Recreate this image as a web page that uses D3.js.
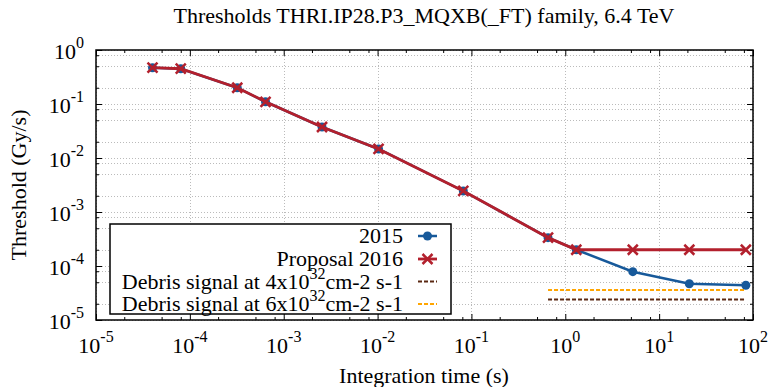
<!DOCTYPE html>
<html><head><meta charset="utf-8">
<script src="https://cdn.jsdelivr.net/npm/d3@7"></script>
<style>
body{margin:0;background:#fff}
</style>
</head><body><svg id="c" width="770" height="387"></svg>
<script>
// ---- data ----
const times = [4e-5, 8e-5, 3.2e-4, 6.4e-4, 2.56e-3, 1.024e-2, 8.192e-2, 0.655, 1.31, 5.24, 20.97, 83.89];
const thr2015 = [0.47, 0.45, 0.2, 0.11, 0.0375, 0.0147, 0.00245, 3.35e-4, 2.0e-4, 7.85e-5, 4.7e-5, 4.4e-5];
const prop2016 = [0.47, 0.45, 0.2, 0.11, 0.0375, 0.0147, 0.00245, 3.35e-4, 2.0e-4, 2.0e-4, 2.0e-4, 2.0e-4];
const debrisX = [0.655, 83.89];
const debris4 = 2.4e-5;
const debris6 = 3.6e-5;
const xExponents = [-5, -4, -3, -2, -1, 0, 1, 2];
const yExponents = [-5, -4, -3, -2, -1, 0];
const minorMult = [2, 5, 8];
const titleText = "Thresholds THRI.IP28.P3_MQXB(_FT) family, 6.4 TeV";
const xLabel = "Integration time (s)";
const yLabel = "Threshold (Gy/s)";

const C2015 = "#17599a", C2016 = "#b3202d", CBROWN = "#5a2812", CORANGE = "#ffa500";
const FONT = "Liberation Serif";

const svg = d3.select("#c");
const L = 96, R = 753, T = 50, B = 320;
const x = d3.scaleLog().domain([1e-5, 1e2]).range([L, R]);
const y = d3.scaleLog().domain([1e-5, 1]).range([B, T]);

const xMaj = xExponents.map(e => Math.pow(10, e));
const yMaj = yExponents.map(e => Math.pow(10, e));
const minorsOf = (exps) => {
  const out = [];
  exps.slice(0, -1).forEach(e => minorMult.forEach(m => out.push(m * Math.pow(10, e))));
  return out;
};
const xMin = minorsOf(xExponents);
const yMin = minorsOf(yExponents);

function txt(parent) {
  return parent.append("text").attr("font-family", FONT).attr("fill", "#000");
}

// grid
const grid = svg.append("g").attr("stroke", "#bbb").attr("stroke-width", 1).attr("stroke-dasharray", "1,2");
yMaj.concat(yMin).forEach(v => {
  grid.append("line").attr("x1", L).attr("x2", R).attr("y1", Math.round(y(v)) + 0.5).attr("y2", Math.round(y(v)) + 0.5);
});
xMaj.forEach(v => {
  grid.append("line").attr("y1", T).attr("y2", B).attr("x1", Math.round(x(v)) + 0.5).attr("x2", Math.round(x(v)) + 0.5);
});

// axes (inward ticks, mirrored)
function ax(gen, tr, vals, size) {
  const g = svg.append("g").attr("transform", tr)
    .call(gen.tickValues(vals).tickSize(size).tickFormat(""));
  g.select(".domain").remove();
  g.selectAll("line").attr("stroke", "#000").attr("stroke-width", 1);
  return g;
}
ax(d3.axisBottom(x), `translate(0,${B})`, xMaj, -6);
ax(d3.axisBottom(x), `translate(0,${B})`, xMin, -3);
ax(d3.axisTop(x), `translate(0,${T})`, xMaj, -6);
ax(d3.axisTop(x), `translate(0,${T})`, xMin, -3);
ax(d3.axisLeft(y), `translate(${L},0)`, yMaj, -6);
ax(d3.axisLeft(y), `translate(${L},0)`, yMin, -3);
ax(d3.axisRight(y), `translate(${R},0)`, yMaj, -6);
ax(d3.axisRight(y), `translate(${R},0)`, yMin, -3);

// tick labels
xExponents.forEach((e, i) => {
  const t = txt(svg).attr("x", x(xMaj[i])).attr("y", 353).attr("text-anchor", "middle").attr("font-size", 22);
  t.append("tspan").text("10");
  t.append("tspan").attr("font-size", 16).attr("dy", -11).text(e);
});
yExponents.forEach((e, i) => {
  const t = txt(svg).attr("x", 84).attr("y", y(yMaj[i]) + 9).attr("text-anchor", "end").attr("font-size", 22);
  t.append("tspan").text("10");
  t.append("tspan").attr("font-size", 16).attr("dy", -11).text(e);
});

// frame
svg.append("rect").attr("x", L).attr("y", T).attr("width", R - L).attr("height", B - T)
  .attr("fill", "none").attr("stroke", "#000").attr("stroke-width", 1.5);

// debris lines
[[debris4, CBROWN], [debris6, CORANGE]].forEach(([v, c]) => {
  svg.append("line").attr("x1", x(debrisX[0])).attr("x2", x(debrisX[1]))
    .attr("y1", y(v)).attr("y2", y(v)).attr("stroke", c).attr("stroke-width", 2).attr("stroke-dasharray", "4,2");
});

// series
const line = (vals) => d3.line().x((d, i) => x(times[i])).y(d => y(d))(vals);
svg.append("path").attr("d", line(thr2015)).attr("fill", "none").attr("stroke", C2015).attr("stroke-width", 2.5);
svg.selectAll("circle.s15").data(thr2015).enter().append("circle")
  .attr("cx", (d, i) => x(times[i])).attr("cy", d => y(d)).attr("r", 4.5).attr("fill", C2015);
svg.append("path").attr("d", line(prop2016)).attr("fill", "none").attr("stroke", C2016).attr("stroke-width", 2.8);
const cross = (g, cx, cy, s) => {
  g.append("path").attr("d", `M${cx - s},${cy - s}L${cx + s},${cy + s}M${cx - s},${cy + s}L${cx + s},${cy - s}`)
    .attr("stroke", C2016).attr("stroke-width", 2.5).attr("fill", "none");
};
prop2016.forEach((d, i) => cross(svg, x(times[i]), y(d), 5));

// legend
const lg = svg.append("g");
lg.append("rect").attr("x", 110).attr("y", 224).attr("width", 341).attr("height", 90)
  .attr("fill", "#fff").attr("stroke", "#000").attr("stroke-width", 1.5);
const rows = [236, 259, 281.5, 304];
const tx = 403, s0 = 418, s1 = 437;
function ltext(yc) {
  return txt(lg).attr("x", tx).attr("y", yc + 7).attr("text-anchor", "end").attr("font-size", 22);
}
ltext(rows[0]).text("2015");
ltext(rows[1]).text("Proposal 2016");
[["4", rows[2]], ["6", rows[3]]].forEach(([n, yc]) => {
  const t = ltext(yc);
  t.append("tspan").text(`Debris signal at ${n}x10`);
  t.append("tspan").attr("font-size", 16).attr("dy", -10).text("32");
  t.append("tspan").attr("dy", 10).text("cm-2 s-1");
});
lg.append("line").attr("x1", s0).attr("x2", s1).attr("y1", rows[0]).attr("y2", rows[0]).attr("stroke", C2015).attr("stroke-width", 2.5);
lg.append("circle").attr("cx", (s0 + s1) / 2).attr("cy", rows[0]).attr("r", 4.5).attr("fill", C2015);
lg.append("line").attr("x1", s0).attr("x2", s1).attr("y1", rows[1]).attr("y2", rows[1]).attr("stroke", C2016).attr("stroke-width", 2.8);
cross(lg, (s0 + s1) / 2, rows[1], 5);
lg.append("line").attr("x1", s0).attr("x2", s1).attr("y1", rows[2]).attr("y2", rows[2]).attr("stroke", CBROWN).attr("stroke-width", 2).attr("stroke-dasharray", "4,2");
lg.append("line").attr("x1", s0).attr("x2", s1).attr("y1", rows[3]).attr("y2", rows[3]).attr("stroke", CORANGE).attr("stroke-width", 2).attr("stroke-dasharray", "4,2");

// titles
txt(svg).attr("x", 424).attr("y", 23).attr("text-anchor", "middle").attr("font-size", 22).text(titleText);
txt(svg).attr("x", 424).attr("y", 383).attr("text-anchor", "middle").attr("font-size", 22).text(xLabel);
txt(svg).attr("transform", "translate(26,185) rotate(-90)").attr("text-anchor", "middle").attr("font-size", 22).text(yLabel);
</script>
</body></html>
